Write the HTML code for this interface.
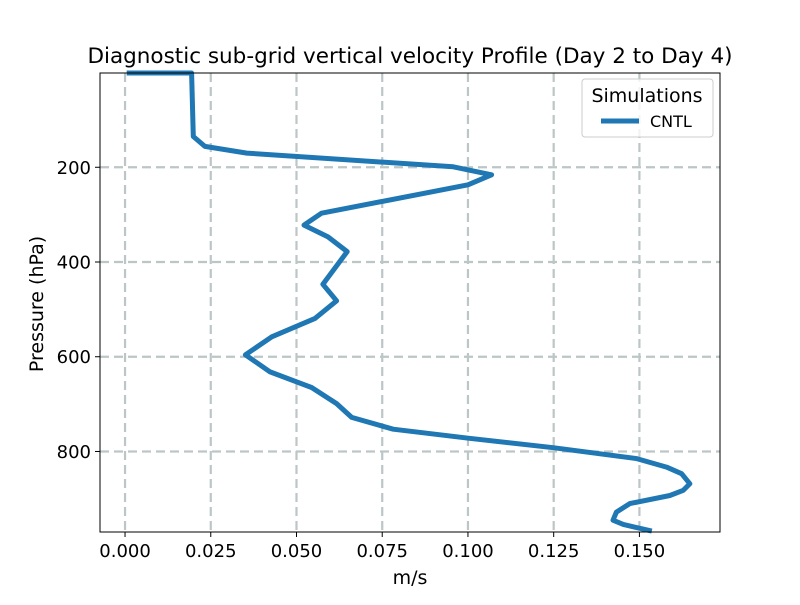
<!DOCTYPE html>
<html><head><meta charset="utf-8"><style>
body{margin:0;background:#fff;font-family:"Liberation Sans","DejaVu Sans",sans-serif}
svg text{font-family:"DejaVu Sans","Liberation Sans",sans-serif}
</style></head><body>
<svg id="chart" width="800" height="600" xmlns="http://www.w3.org/2000/svg">
<rect width="800" height="600" fill="#fff"/>
<text x="410" y="63" text-anchor="middle" font-size="21.5">Diagnostic sub-grid vertical velocity Profile (Day 2 to Day 4)</text>
<g id="grid"></g><g id="series"></g><g id="axes"></g>
<rect x="100" y="73" width="620" height="459" fill="none" stroke="#000" stroke-width="1"/>
<text x="410" y="584" text-anchor="middle" font-size="19">m/s</text>
<text transform="translate(43,304) rotate(-90)" text-anchor="middle" font-size="19">Pressure (hPa)</text>
<g>
<rect x="582" y="79" width="131" height="58" rx="3" fill="#fff" fill-opacity="0.8" stroke="#ccc"/>
<text x="647" y="102" text-anchor="middle" font-size="19">Simulations</text>
<line x1="601" y1="121" x2="639" y2="121" stroke="#1f77b4" stroke-width="5"/>
<text x="650" y="127" font-size="16">CNTL</text>
</g>
</svg>
<script>
const xTicks=[0,0.025,0.05,0.075,0.1,0.125,0.15];
const xTickLabels=["0.000","0.025","0.050","0.075","0.100","0.125","0.150"];
const yTicks=[200,400,600,800];
const yTickLabels=["200","400","600","800"];
const cntlVel=[0.0005,0.0194,0.0199,0.0233,0.0355,0.0957,0.1069,0.1000,0.0573,0.0522,0.0592,0.0648,0.0577,0.0617,0.0554,0.0428,0.0351,0.0423,0.0544,0.0617,0.0661,0.0782,0.1001,0.1249,0.1492,0.1579,0.1623,0.1647,0.1628,0.1589,0.1472,0.1433,0.1423,0.1453,0.1536];
const cntlPres=[1,1,135,156,170,199,216,237,297,322,347,378,447,482,519,558,596,632,665,699,728,753,772,792,815,833,847,868,882,893,910,928,945,954,968];
const NS="http://www.w3.org/2000/svg";
const xMin=-0.0073,xMax=0.1735,yTop=1,yBot=970;
function sx(v){return 100+(v-xMin)/(xMax-xMin)*620;}
function sy(p){return 73+(p-yTop)/(yBot-yTop)*459;}
function mk(t,a,parent){const e=document.createElementNS(NS,t);for(const k in a)e.setAttribute(k,a[k]);parent.appendChild(e);return e;}
const grid=document.getElementById('grid'),axes=document.getElementById('axes'),series=document.getElementById('series');
xTicks.forEach((v,i)=>{const x=sx(v);
 const g=mk('line',{x1:x,x2:x,y1:73,y2:532,stroke:'#bcc6c6','stroke-width':2.2,'stroke-dasharray':'9,5'},grid);
 
 
 const t=mk('line',{x1:x,x2:x,y1:532,y2:537,stroke:'#000'},axes);
 
 
 const l=mk('text',{x:x,y:557,'text-anchor':'middle','font-size':18},axes);l.textContent=xTickLabels[i];
 
 
});
yTicks.forEach((p,i)=>{const y=sy(p);
 const g=mk('line',{x1:100,x2:720,y1:y,y2:y,stroke:'#bcc6c6','stroke-width':2.2,'stroke-dasharray':'9,5'},grid);
 
 
 const t=mk('line',{x1:95,x2:100,y1:y,y2:y,stroke:'#000'},axes);
 
 
 const l=mk('text',{x:91,y:y+6.5,'text-anchor':'end','font-size':18},axes);l.textContent=yTickLabels[i];
 
 
});
const pts=cntlVel.map((v,i)=>sx(v).toFixed(1)+','+sy(cntlPres[i]).toFixed(1)).join(' ');
const line=mk('polyline',{points:pts,fill:'none',stroke:'#1f77b4','stroke-width':5,'stroke-linejoin':'round'},series);


</script>
</body></html>
